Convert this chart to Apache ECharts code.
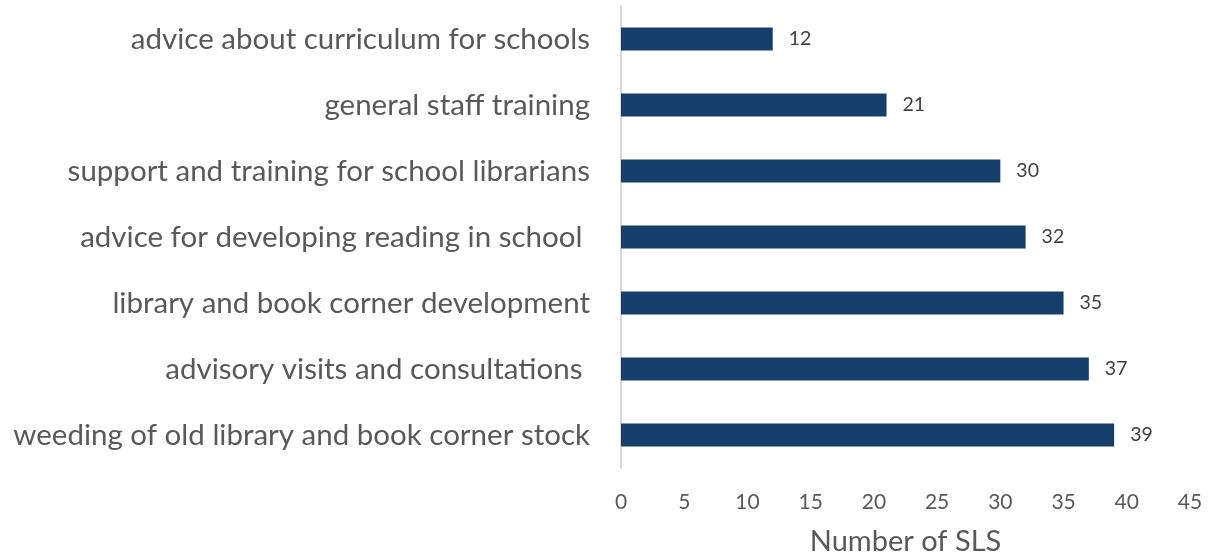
<!DOCTYPE html>
<html>
<head>
<meta charset="utf-8">
<script src="https://cdn.jsdelivr.net/npm/echarts@6/dist/echarts.min.js"></script>
<style>
  html, body { margin: 0; padding: 0; background: #ffffff; }
  #chart { width: 1212px; height: 558px; }
</style>
</head>
<body>
<div id="chart"></div>
<script>
// Services offered by SLS, listed bottom-to-top as drawn on the category axis
const categories = [
  'weeding of old library and book corner stock',
  'advisory visits and consultations ',
  'library and book corner development',
  'advice for developing reading in school ',
  'support and training for school librarians',
  'general staff training',
  'advice about curriculum for schools'
];
const counts = [39, 37, 35, 32, 30, 21, 12];
const xTicks = { min: 0, max: 45, interval: 5 };

const chart = echarts.init(document.getElementById('chart'));
chart.setOption({
  animation: false,
  textStyle: { fontFamily: 'Lato, "Open Sans", sans-serif' },
  grid: {
    left: 621, right: 22, top: 6, bottom: 90,
    containLabel: false, outerBoundsMode: 'none'
  },
  xAxis: {
    type: 'value',
    min: xTicks.min, max: xTicks.max, interval: xTicks.interval,
    name: 'Number of SLS',
    nameLocation: 'middle',
    nameGap: 59,
    nameTextStyle: { fontSize: 29, color: '#595959' },
    axisLine: { show: false },
    axisTick: { show: false },
    splitLine: { show: false },
    axisLabel: { fontSize: 21, color: '#595959', margin: 24 }
  },
  yAxis: {
    type: 'category',
    data: categories,
    axisLine: { show: true, lineStyle: { color: '#d9d9d9', width: 2 } },
    axisTick: { show: false },
    axisLabel: { fontSize: 29.5, color: '#595959', margin: 31 }
  },
  series: [{
    type: 'bar',
    data: counts,
    barWidth: 23,
    itemStyle: { color: '#163e6a' },
    label: {
      show: true, position: 'right', distance: 16,
      fontSize: 19.5, color: '#404040'
    }
  }]
});
</script>
</body>
</html>
